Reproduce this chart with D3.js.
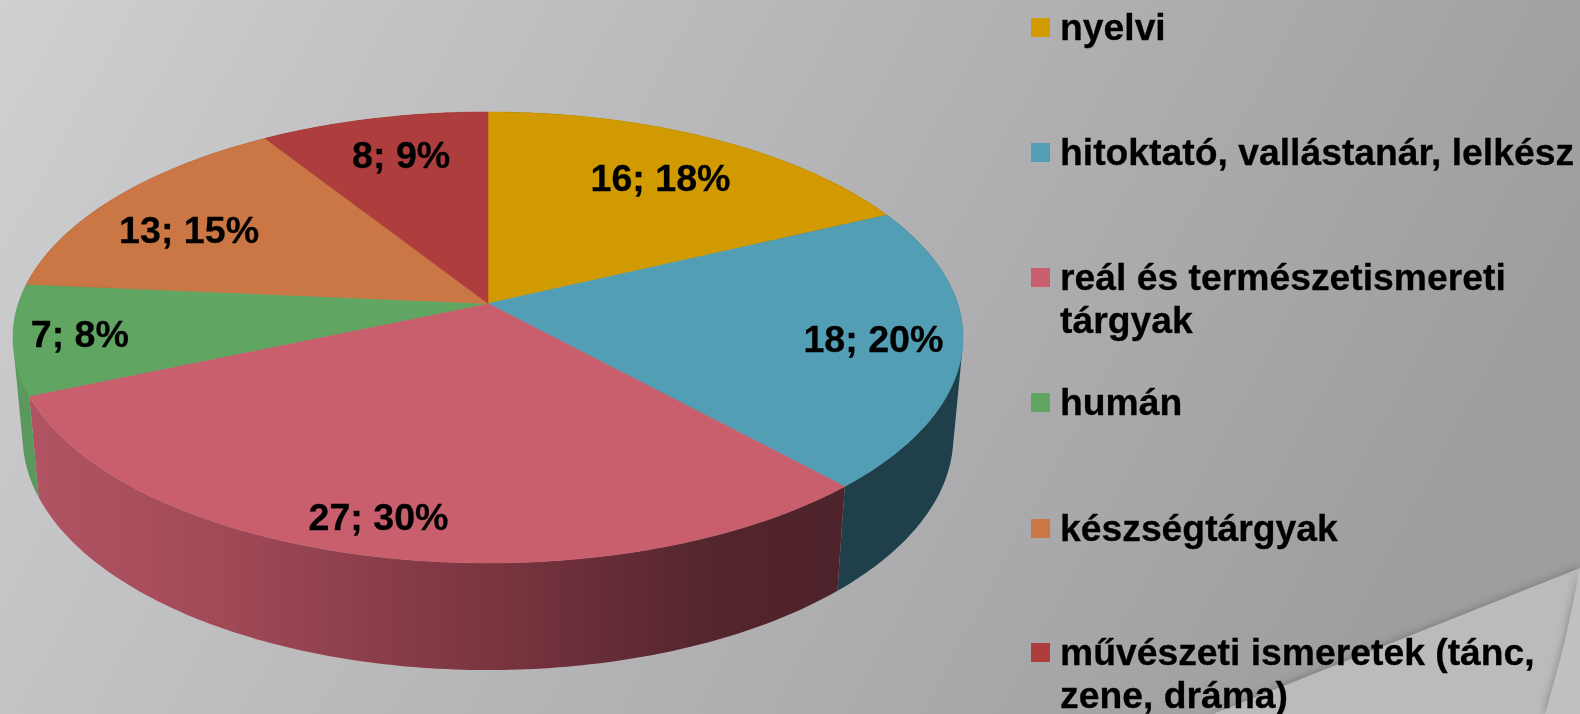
<!DOCTYPE html>
<html><head><meta charset="utf-8">
<script src="https://cdn.jsdelivr.net/npm/d3@7/dist/d3.min.js"></script>
<style>html,body{margin:0;padding:0;background:#bbb;overflow:hidden}svg{display:block}text{font-family:"Liberation Sans",Arial,sans-serif;font-weight:700;fill:#000;stroke:#000;stroke-width:0.3px}</style>
</head><body><svg id="c" width="1580" height="714"></svg>
<script>
const categories=["nyelvi","hitoktató, vallástanár, lelkész","reál és természetismereti tárgyak","humán","készségtárgyak","művészeti ismeretek (tánc, zene, dráma)"];
const values=[16,18,27,7,13,8];
const percents=[18,20,30,8,15,9];
const legendLines=[["nyelvi"],["hitoktató, vallástanár, lelkész"],["reál és természetismereti","tárgyak"],["humán"],["készségtárgyak"],["művészeti ismeretek (tánc,","zene, dráma)"]];
const colors=["#d09a00","#529eb5","#c95f6d","#60a562","#cb7645","#ae3d3d"];
const sideColors=["#6e5200","#1f404a","url(#redSide)","#5a985e","#7a4628","#6a2525"];

// layout
const W=1580,H=714,cx=488,k=0.1507;
const topFace={a:469.6,y0:303.5,b:220.4}, botFace={a:460,y0:401.6,b:228};
const labelR=0.8, labelNudge=[[-10,10],[8,1],[-20,18],[-30,2],[3,13],[7,3]];
const legendY=[40,165,290,415,541,665], lineGap=43;

const svg=d3.select("#c"),defs=svg.append("defs");
const bg=defs.append("linearGradient").attr("id","bg").attr("gradientUnits","userSpaceOnUse").attr("x1",0).attr("y1",0).attr("x2",1330).attr("y2",714);
[[0,"#d0d0d3"],[0.21,"#c4c4c6"],[0.5,"#b6b6b8"],[1,"#9e9ea1"]].forEach(s=>bg.append("stop").attr("offset",s[0]).attr("stop-color",s[1]));
const rs=defs.append("linearGradient").attr("id","redSide").attr("gradientUnits","userSpaceOnUse").attr("x1",38).attr("y1",0).attr("x2",838).attr("y2",0);
[[0,"#b05363"],[0.22,"#a24a58"],[0.55,"#7c3641"],[0.85,"#53252d"],[1,"#4f232b"]].forEach(s=>rs.append("stop").attr("offset",s[0]).attr("stop-color",s[1]));
const blurF=(id,sd)=>defs.append("filter").attr("id",id).attr("x","-20%").attr("y","-20%").attr("width","140%").attr("height","140%").append("feGaussianBlur").attr("stdDeviation",sd);
blurF("blur",5);blurF("soft",0.35);

// background with the folded corner
const fold=[[1213,714],[1580,568],[1580,714]], fold2=[[1580,568],[1565,640],[1545,714]];
const line=d3.line();
svg.append("rect").attr("width",W).attr("height",H).attr("fill","url(#bg)");
svg.append("path").attr("d",line(fold)+"Z").attr("fill","#555").attr("opacity",0.6).attr("filter","url(#blur)");
svg.append("path").attr("d",line(fold)+"Z").attr("fill","#bbbbbd");
const fold2Path=d3.line().curve(d3.curveCatmullRom)(fold2)+"L1580,714Z";
svg.append("path").attr("d",fold2Path).attr("fill","#666").attr("opacity",0.7).attr("filter","url(#blur)");
svg.append("path").attr("d",fold2Path).attr("fill","#c0c0c2");

// projected pie
const project=(p,ang,r=1)=>{const u=r*Math.sin(ang),v=-r*Math.cos(ang),d=1-k*v;return [cx+p.a*u/d,p.y0+p.b*v/d];};
const arcAngles=(a0,a1)=>{const n=Math.max(2,Math.ceil((a1-a0)/0.015));return d3.range(n+1).map(i=>a0+(a1-a0)*i/n);};
const arcPts=(p,a0,a1)=>arcAngles(a0,a1).map(a=>project(p,a));
const pie=d3.pie().sort(null)(values);
const colorScale=d3.scaleOrdinal().domain(categories).range(colors);
const sideScale=d3.scaleOrdinal().domain(categories).range(sideColors);

// side wall: one path of same-wound quads per slice, so the silhouette between the rims fills without seams
const quad=([a,b])=>{const q=[project(topFace,a),project(topFace,b),project(botFace,b),project(botFace,a)];
 if(d3.polygonArea(q)<0)q.reverse();return line(q)+"Z";};
svg.append("g").selectAll("path").data(pie).join("path")
 .attr("d",d=>d3.pairs(arcAngles(d.startAngle,d.endAngle)).map(quad).join(""))
 .attr("fill",(d,i)=>sideScale(categories[i]));
svg.append("g").selectAll("path").data(pie).join("path")
 .attr("d",d=>line([[cx,topFace.y0]].concat(arcPts(topFace,d.startAngle,d.endAngle)))+"Z")
 .attr("fill",(d,i)=>colorScale(categories[i])).attr("stroke",(d,i)=>colorScale(categories[i])).attr("stroke-width",0.5);

// labels
svg.append("g").attr("filter","url(#soft)").selectAll("text").data(pie).join("text")
 .attr("text-anchor","middle").attr("font-size",37.6)
 .attr("x",(d,i)=>project(topFace,(d.startAngle+d.endAngle)/2,labelR)[0]+labelNudge[i][0])
 .attr("y",(d,i)=>project(topFace,(d.startAngle+d.endAngle)/2,labelR)[1]+labelNudge[i][1]+13)
 .text((d,i)=>`${values[i]}; ${percents[i]}%`);

// legend
const lg=svg.append("g").attr("filter","url(#soft)");
legendLines.forEach((lines,i)=>{
 lg.append("rect").attr("x",1031).attr("y",legendY[i]-22).attr("width",19).attr("height",19).attr("fill",colors[i]);
 lines.forEach((t,j)=>lg.append("text").attr("x",1060).attr("y",legendY[i]+j*lineGap).attr("font-size",37.3).text(t));
});
</script></body></html>
